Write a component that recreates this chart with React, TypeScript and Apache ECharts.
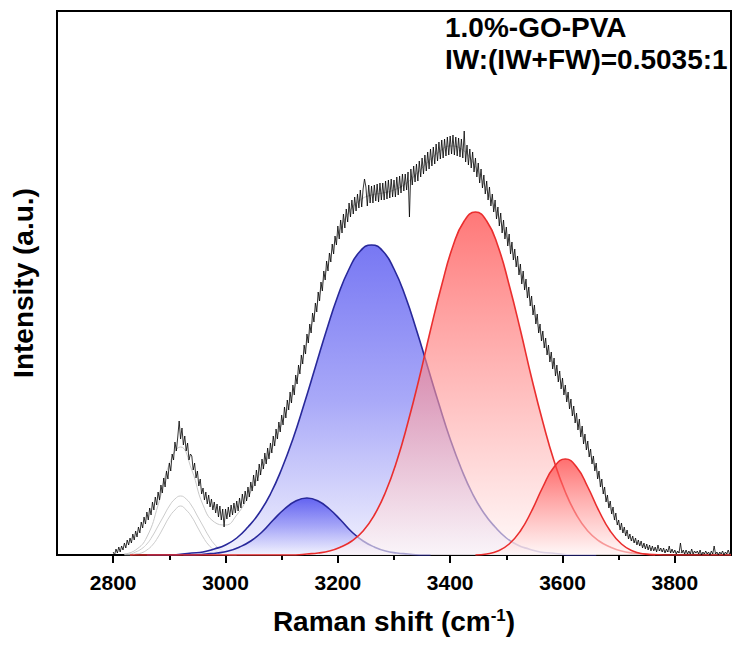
import React, { useEffect, useRef } from 'react';
import * as echarts from 'echarts';

const FONT = '"Liberation Sans", Arial, Helvetica, sans-serif';

const X_MIN = 2700;
const X_MAX = 3900;
const Y_MAX = 544;
const MAJOR_TICKS = [2800, 3000, 3200, 3400, 3600, 3800];
const MINOR_TICKS = [2900, 3100, 3300, 3500, 3700];

const TITLE_LINE_1 = '1.0%-GO-PVA';
const TITLE_LINE_2 = 'IW:(IW+FW)=0.5035:1';

// raw Raman spectrum, sampled every 2.5 cm-1 from 2800 (8 samples per row = 20 cm-1)
const RAW_X0 = 2800;
const RAW_DX = 2.5;
const RAW_Y = [
  3, 0, 6, 2, 8, 3, 9, 5,
  12, 7, 15, 10, 17, 12, 21, 15,
  24, 18, 28, 22, 33, 27, 38, 31,
  43, 35, 47, 40, 53, 45, 58, 50,
  63, 55, 70, 62, 77, 68, 84, 76,
  92, 84, 101, 95, 113, 104, 118, 134,
  116, 127, 110, 119, 104, 112, 95, 101,
  99, 85, 92, 77, 84, 69, 76, 61,
  67, 55, 63, 51, 60, 48, 56, 45,
  53, 42, 51, 38, 49, 35, 46, 28,
  46, 36, 48, 38, 50, 40, 52, 42,
  54, 44, 57, 47, 61, 51, 64, 54,
  68, 58, 73, 64, 80, 69, 85, 74,
  91, 80, 96, 86, 102, 91, 107, 96,
  112, 102, 119, 109, 126, 116, 133, 123,
  140, 130, 148, 137, 155, 145, 163, 152,
  170, 160, 180, 171, 190, 181, 200, 191,
  210, 201, 221, 212, 231, 222, 242, 233,
  252, 243, 263, 254, 273, 264, 284, 275,
  294, 284, 302, 293, 311, 301, 319, 310,
  329, 316, 335, 322, 341, 327, 346, 333,
  352, 338, 355, 341, 358, 344, 361, 347,
  365, 348, 366, 376, 368, 349, 370, 352,
  369, 352, 370, 354, 371, 353, 372, 355,
  372, 355, 374, 356, 375, 357, 376, 358,
  375, 358, 378, 360, 379, 362, 381, 364,
  381, 365, 383, 338, 386, 370, 389, 373,
  391, 374, 394, 378, 397, 381, 400, 384,
  403, 386, 406, 389, 408, 391, 411, 394,
  413, 396, 415, 397, 416, 399, 418, 400,
  419, 401, 420, 400, 418, 399, 417, 398,
  416, 397, 424, 393, 410, 390, 406, 387,
  403, 383, 397, 378, 392, 372, 386, 367,
  380, 361, 374, 355, 368, 349, 361, 343,
  355, 336, 348, 329, 342, 322, 335, 316,
  328, 309, 321, 301, 313, 295, 306, 288,
  299, 280, 291, 271, 284, 265, 276, 257,
  268, 249, 259, 240, 250, 231, 241, 222,
  231, 214, 224, 207, 217, 200, 210, 193,
  203, 186, 197, 179, 190, 173, 184, 166,
  177, 160, 170, 153, 163, 146, 156, 139,
  149, 132, 142, 125, 136, 118, 129, 111,
  121, 105, 114, 98, 106, 91, 99, 84,
  92, 76, 84, 68, 76, 61, 68, 53,
  60, 47, 54, 41, 48, 35, 42, 30,
  35, 25, 32, 22, 28, 19, 25, 16,
  21, 14, 19, 12, 17, 10, 15, 9,
  14, 7, 12, 6, 11, 5, 10, 4,
  9, 4, 8, 3, 10, 4, 7, 3,
  7, 2, 6, 3, 9, 2, 6, 2,
  5, 1, 4, 2, 12, 2, 5, 1,
  5, 1, 4, 1, 6, 1, 4, 2,
  4, 1, 5, 0, 3, 1, 4, 1,
  3, 0, 4, 1, 9, 1, 3, 0,
  3, 1, 4, 0, 3, 1, 5, 1,
  2,
];

// cumulative fit
const SUM_X = [
  2820, 2840, 2860, 2880, 2900, 2920, 2940, 2960, 2980, 3000,
  3020, 3040, 3060, 3080, 3100, 3120, 3140, 3160, 3180, 3200,
  3220, 3240, 3260, 3280, 3300, 3320, 3340, 3360, 3380, 3400,
  3420, 3440, 3460, 3480, 3500, 3520, 3540, 3560, 3580, 3600,
  3620, 3640, 3660, 3680, 3700, 3720, 3740, 3760, 3780, 3800,
  3820, 3840, 3860, 3880, 3900,
];
const SUM_Y = [
  1, 5, 18, 50, 91, 108, 85, 50, 33, 30,
  40, 58, 80, 103, 131, 162, 202, 244, 286, 320,
  343, 355, 360, 362, 365, 371, 381, 393, 403, 409,
  406, 393, 371, 346, 319, 290, 259, 223, 195, 169,
  141, 114, 85, 54, 30, 17, 10, 6, 4, 3,
  2, 2, 1, 1, 1,
];

// CH band components (grey)
const GREY_X = [
  2820, 2830, 2840, 2850, 2860, 2870, 2880, 2890, 2900, 2910, 2920,
  2930, 2940, 2950, 2960, 2970, 2980, 2990, 3000, 3010, 3020,
];
const GREY_A_Y = [1, 1, 3, 6, 11, 19, 29, 39, 49, 56, 59, 56, 49, 39, 29, 19, 11, 6, 3, 1, 1];
const GREY_B_Y = [0, 0, 1, 2, 5, 10, 18, 28, 38, 45, 49, 45, 38, 28, 18, 10, 5, 2, 1, 0, 0];

// blue components
const BLUE_MAIN_X = [
  2860, 2900,
  2940, 2960, 2980, 3000, 3020, 3040, 3060, 3080, 3100, 3120, 3140, 3160, 3180, 3200, 3220, 3240,
  3260, 3280, 3300, 3320, 3340, 3360, 3380, 3400, 3420, 3440, 3460, 3480, 3500, 3520, 3540, 3560, 3580,
  3620, 3660,
];
const BLUE_MAIN_Y = [
  0, 0,
  2, 3, 6, 10, 17, 28, 42, 61, 86, 116, 151, 188, 225, 259, 286, 304,
  310, 304, 286, 259, 225, 188, 151, 116, 86, 61, 42, 28, 17, 10, 6, 3, 2,
  0, 0,
];
const BLUE_SMALL_X = [
  2925, 2945,
  2965, 2985, 3005, 3025, 3045, 3065, 3085, 3105, 3125, 3145,
  3165, 3185, 3205, 3225, 3245, 3265, 3285, 3305, 3325,
  3345, 3365,
];
const BLUE_SMALL_Y = [0, 0, 1, 2, 4, 8, 14, 23, 35, 46, 54, 57, 54, 46, 35, 23, 14, 8, 4, 2, 1, 0, 0];

// red components
const RED_MAIN_X = [
  2830, 2950, 3050, 3125,
  3145, 3165, 3185, 3205, 3225, 3245, 3265, 3285, 3305, 3325, 3345, 3365, 3385, 3405, 3425,
  3445, 3465, 3485, 3505, 3525, 3545, 3565, 3585, 3605, 3625, 3645, 3665, 3685, 3705, 3725, 3745,
  3800, 3850, 3900,
];
const RED_MAIN_Y = [
  0, 0, 0, 0,
  1, 2, 4, 8, 14, 24, 40, 63, 94, 133, 177, 225, 270, 309, 334,
  343, 334, 309, 270, 225, 177, 133, 94, 63, 40, 24, 14, 8, 4, 2, 1,
  0, 0, 0,
];
const RED_SMALL_X = [
  3445, 3465, 3485, 3505, 3525, 3545, 3565, 3585, 3605,
  3625, 3645, 3665, 3685, 3705, 3725, 3745, 3765,
];
const RED_SMALL_Y = [0, 1, 4, 11, 24, 44, 68, 88, 96, 88, 68, 44, 24, 11, 4, 1, 0];

const pairs = (xs: number[], ys: number[]) => xs.map((x, i) => [x, ys[i]]);

const grad = (top: string, mid: string, bottom: string) =>
  new echarts.graphic.LinearGradient(0, 0, 0, 1, [
    { offset: 0, color: top },
    { offset: 0.5, color: mid },
    { offset: 1, color: bottom },
  ]);

export default function App() {
  const ref = useRef<HTMLDivElement>(null);

  useEffect(() => {
    const chart = echarts.init(ref.current!, null, { renderer: 'svg' });
    const raw = RAW_Y.map((y, i) => [RAW_X0 + i * RAW_DX, y]);

    const lineBase = { type: 'line', smooth: true, symbol: 'none', silent: true };

    const option: any = {
      animation: false,
      backgroundColor: '#fff',
      grid: {
        left: 57,
        top: 11,
        right: 2,
        bottom: 91,
        show: true,
        borderColor: '#000',
        borderWidth: 2,
        containLabel: false,
      },
      xAxis: [
        {
          type: 'value',
          min: X_MIN,
          max: X_MAX,
          interval: 100,
          position: 'bottom',
          name: '{a|Raman shift (cm}{s|-1}{a|)}',
          nameLocation: 'middle',
          nameGap: 52,
          nameTextStyle: {
            rich: {
              a: { fontSize: 28, fontWeight: 'bold', fontFamily: FONT, color: '#000' },
              s: { fontSize: 17, fontWeight: 'bold', fontFamily: FONT, color: '#000', verticalAlign: 'top' },
            },
          },
          axisLine: { show: true, onZero: false, lineStyle: { color: '#000', width: 2 } },
          axisTick: { show: true, customValues: MAJOR_TICKS, length: 8, lineStyle: { color: '#000', width: 2 } },
          axisLabel: {
            show: true,
            customValues: MAJOR_TICKS,
            formatter: (v: number) => String(v),
            margin: 17,
            fontSize: 21,
            fontWeight: 'bold',
            fontFamily: FONT,
            color: '#000',
          },
          splitLine: { show: false },
        },
        {
          type: 'value',
          min: X_MIN,
          max: X_MAX,
          interval: 100,
          position: 'bottom',
          axisLine: { show: false },
          axisTick: { show: true, customValues: MINOR_TICKS, length: 5, lineStyle: { color: '#000', width: 2 } },
          axisLabel: { show: false },
          splitLine: { show: false },
        },
      ],
      yAxis: {
        type: 'value',
        min: 0,
        max: Y_MAX,
        name: 'Intensity (a.u.)',
        nameLocation: 'middle',
        nameGap: 20,
        nameTextStyle: { fontSize: 28, fontWeight: 'bold', fontFamily: FONT, color: '#000' },
        axisLine: { show: true, onZero: false, lineStyle: { color: '#000', width: 2 } },
        axisTick: { show: false },
        axisLabel: { show: false },
        splitLine: { show: false },
      },
      graphic: [
        {
          type: 'text',
          left: 445,
          top: 13,
          style: { text: TITLE_LINE_1, font: `bold 28px ${FONT}`, fill: '#000' },
        },
        {
          type: 'text',
          left: 445,
          top: 45,
          style: { text: TITLE_LINE_2, font: `bold 28px ${FONT}`, fill: '#000' },
        },
      ],
      series: [
        { ...lineBase, z: 2, data: pairs(SUM_X, SUM_Y), lineStyle: { color: '#c8c8c8', width: 1 } },
        { ...lineBase, z: 3, data: pairs(GREY_X, GREY_A_Y), lineStyle: { color: '#cccccc', width: 1 } },
        { ...lineBase, z: 4, data: pairs(GREY_X, GREY_B_Y), lineStyle: { color: '#cccccc', width: 1 } },
        {
          ...lineBase,
          z: 5,
          data: pairs(BLUE_MAIN_X, BLUE_MAIN_Y),
          lineStyle: { color: '#28289a', width: 1.6 },
          areaStyle: { color: grad('rgb(62,62,238)', 'rgb(132,132,245)', 'rgb(236,236,253)') },
        },
        {
          ...lineBase,
          z: 6,
          data: pairs(BLUE_SMALL_X, BLUE_SMALL_Y),
          lineStyle: { color: '#28289a', width: 1.6 },
          areaStyle: { color: grad('rgb(50,50,236)', 'rgb(140,140,246)', 'rgba(242,242,254,0.95)') },
        },
        {
          ...lineBase,
          z: 7,
          data: pairs(RED_MAIN_X, RED_MAIN_Y),
          lineStyle: { color: '#ea2e2e', width: 1.6 },
          areaStyle: { color: grad('rgb(255,62,62)', 'rgba(255,145,145,0.88)', 'rgba(255,246,246,0.86)') },
        },
        {
          ...lineBase,
          z: 8,
          data: pairs(RED_SMALL_X, RED_SMALL_Y),
          lineStyle: { color: '#ea2e2e', width: 1.6 },
          areaStyle: { color: grad('rgb(255,50,50)', 'rgba(255,145,145,0.9)', 'rgba(255,246,246,0.86)') },
        },
        {
          ...lineBase,
          z: 9,
          smooth: false,
          data: raw,
          lineStyle: { color: '#000', width: 0.8 },
        },
      ],
    };

    chart.setOption(option);
    return () => chart.dispose();
  }, []);

  return (
    <div
      ref={ref}
      style={{ position: 'fixed', left: 0, top: 0, width: 733, height: 646, background: '#fff' }}
    />
  );
}
